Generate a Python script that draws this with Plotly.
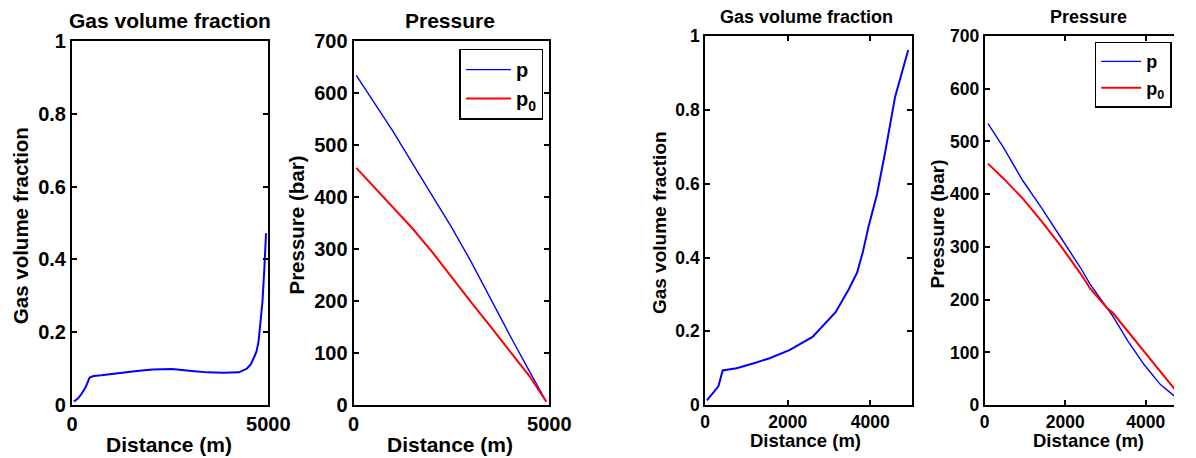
import plotly.graph_objects as go

W, H = 1196, 458

# ---------------- data ----------------
# Case 1: gas volume fraction
gvf1_x = [50, 150, 250, 350, 450, 550, 750, 950, 1250, 1650, 2050, 2550, 3050, 3450,
          3850, 4250, 4450, 4550, 4650, 4700, 4750, 4800, 4850, 4900, 4940]
gvf1_y = [0.010, 0.018, 0.032, 0.050, 0.076, 0.080, 0.082, 0.085, 0.089, 0.094, 0.098,
          0.099, 0.094, 0.090, 0.089, 0.090, 0.100, 0.112, 0.135, 0.148, 0.175, 0.225,
          0.285, 0.380, 0.472]

# Case 1: pressure
p1_x = [70, 500, 1000, 1500, 2000, 2500, 3000, 3500, 4000, 4500, 4920]
p1_y = [634, 584, 527, 465, 403, 342, 276, 203, 133, 64, 7]
p01_x = [70, 500, 1000, 1500, 2000, 2500, 3000, 3500, 4000, 4500, 4920]
p01_y = [456, 421, 381, 340, 295, 246, 198, 151, 104, 55, 7]

# Case 2: gas volume fraction
gvf2_x = [41, 321, 424, 760, 1161, 1561, 2040, 2601, 3160, 3479, 3680, 3820, 3959, 4160,
          4360, 4600, 4919]
gvf2_y = [0.013, 0.051, 0.094, 0.100, 0.113, 0.127, 0.149, 0.185, 0.252, 0.314, 0.359,
          0.415, 0.485, 0.570, 0.685, 0.835, 0.962]

# Case 2: pressure
p2_x = [83, 465, 943, 1420, 1897, 2375, 2613, 3050, 3170, 3568, 3966, 4363, 4761, 4905]
p2_y = [534, 489, 426, 373, 317, 261, 230, 183, 170, 120, 76, 39, 14, 5]
p02_x = [83, 465, 943, 1420, 1897, 2375, 2613, 3050, 3170, 3568, 3966, 4363, 4761, 4905]
p02_y = [458, 430, 392, 348, 301, 250, 222, 183, 176, 139, 101, 64, 26, 11]

gvf_ticks = [0, 0.2, 0.4, 0.6, 0.8, 1]
gvf_ticktext = ["0", "0.2", "0.4", "0.6", "0.8", "1"]
p_ticks = [0, 100, 200, 300, 400, 500, 600, 700]
x_ticks_a = [0, 5000]
x_ticks_b = [0, 2000, 4000]

title_gvf = "Gas volume fraction"
title_p = "Pressure"
xlabel = "Distance (m)"
ylabel_gvf = "Gas volume fraction"
ylabel_p = "Pressure (bar)"
legend_names = ["p", "p<sub>0</sub>"]

# ---------------- styling ----------------
FONT = "Liberation Sans, Arial, sans-serif"
BLUE = "rgb(0,0,255)"
RED = "rgb(255,0,0)"

# observed page->picture mapping of the viewer (screen = A + K * page)
AX, KX = 2.4, 0.986
AY, KY = 9.0, 0.962


def fx(s):
    return (s - AX) / (KX * W)


def fy(s):
    return 1 - (s - AY) / (KY * H)


fig = go.Figure()

fig.add_trace(go.Scatter(x=gvf1_x, y=gvf1_y, mode="lines", line=dict(color=BLUE, width=2),
                         xaxis="x", yaxis="y", showlegend=False))
fig.add_trace(go.Scatter(x=p1_x, y=p1_y, mode="lines", line=dict(color=BLUE, width=1.4),
                         name=legend_names[0], xaxis="x2", yaxis="y2", legend="legend"))
fig.add_trace(go.Scatter(x=p01_x, y=p01_y, mode="lines", line=dict(color=RED, width=2),
                         name=legend_names[1], xaxis="x2", yaxis="y2", legend="legend"))
fig.add_trace(go.Scatter(x=gvf2_x, y=gvf2_y, mode="lines", line=dict(color=BLUE, width=2),
                         xaxis="x3", yaxis="y3", showlegend=False))
fig.add_trace(go.Scatter(x=p2_x, y=p2_y, mode="lines", line=dict(color=BLUE, width=1.4),
                         name=legend_names[0], xaxis="x4", yaxis="y4", legend="legend2"))
fig.add_trace(go.Scatter(x=p02_x, y=p02_y, mode="lines", line=dict(color=RED, width=2),
                         name=legend_names[1], xaxis="x4", yaxis="y4", legend="legend2"))


def axis(domain, rng, tickvals, size, anchor, ticktext=None, mirror="ticks"):
    d = dict(domain=domain, range=rng, tickvals=tickvals, ticks="inside", ticklen=5,
             tickwidth=1.5, tickcolor="black", showline=True, linecolor="black",
             linewidth=2, mirror=mirror, showgrid=False, zeroline=False,
             tickfont=dict(family=FONT, size=size, color="black", weight="bold"),
             ticklabeloverflow="allow", anchor=anchor, fixedrange=True)
    if ticktext is not None:
        d["ticktext"] = ticktext
    return d


# plot-area boxes in picture pixels (left, right, top, bottom)
b1 = (69, 267.3, 39.3, 407.3)
b2 = (353.3, 551, 39.3, 407.3)
b3 = (708.3, 916.7, 34.3, 407.3)
b4 = (990.5, 1196, 34.3, 407.3)


def xd(b):
    return [fx(b[0]), min(1.0, fx(b[1]))]


def yd(b):
    return [fy(b[3]), fy(b[2])]


# panel 4 is cut by the picture edge in the reference
x4_max = 4700

layout = dict(
    width=W, height=H, margin=dict(l=0, r=0, t=0, b=0), autosize=False,
    paper_bgcolor="white", plot_bgcolor="white",
    font=dict(family=FONT, color="black"),
    xaxis=axis(xd(b1), [0, 5000], x_ticks_a, 20, "y"),
    yaxis=axis(yd(b1), [0, 1], gvf_ticks, 20, "x", gvf_ticktext),
    xaxis2=axis(xd(b2), [0, 5000], x_ticks_a, 20, "y2"),
    yaxis2=axis(yd(b2), [0, 700], p_ticks, 20, "x2"),
    xaxis3=axis(xd(b3), [0, 5000], x_ticks_b, 17.5, "y3"),
    yaxis3=axis(yd(b3), [0, 1], gvf_ticks, 17.5, "x3", gvf_ticktext),
    xaxis4=axis(xd(b4), [0, x4_max], x_ticks_b, 17.5, "y4"),
    yaxis4=axis(yd(b4), [0, 700], p_ticks, 17.5, "x4", mirror=False),
    legend=dict(x=fx(545), y=fy(47), xanchor="right", yanchor="top",
                bordercolor="black", borderwidth=1.5, bgcolor="white",
                font=dict(family=FONT, size=20, color="black", weight="bold"),
                tracegroupgap=0, itemwidth=45),
    legend2=dict(x=0.998, y=fy(40), xanchor="right", yanchor="top",
                 bordercolor="black", borderwidth=1.5, bgcolor="white",
                 font=dict(family=FONT, size=18, color="black", weight="bold"),
                 tracegroupgap=0, itemwidth=40),
)
fig.update_layout(**layout)


def ann(text, x, y, size, angle=0):
    fig.add_annotation(text=text, x=fx(x), y=fy(y), xref="paper", yref="paper",
                       xanchor="center", yanchor="middle", showarrow=False,
                       textangle=angle,
                       font=dict(family=FONT, size=size, color="black", weight="bold"))


# titles
ann(title_gvf, 168, 19, 21)
ann(title_p, 451, 19, 21)
ann(title_gvf, 811, 15, 18)
ann(title_p, 1095, 15, 18)
# x-axis titles
ann(xlabel, 167, 447, 21)
ann(xlabel, 451, 447, 21)
ann(xlabel, 810, 443, 18.5)
ann(xlabel, 1095, 443, 18.5)
# y-axis titles
ann(ylabel_gvf, 17, 226, 20.5, -90)
ann(ylabel_p, 296, 225, 20.5, -90)
ann(ylabel_gvf, 662, 223, 19, -90)
ann(ylabel_p, 943, 224, 19, -90)

fig.write_html("out.html")
